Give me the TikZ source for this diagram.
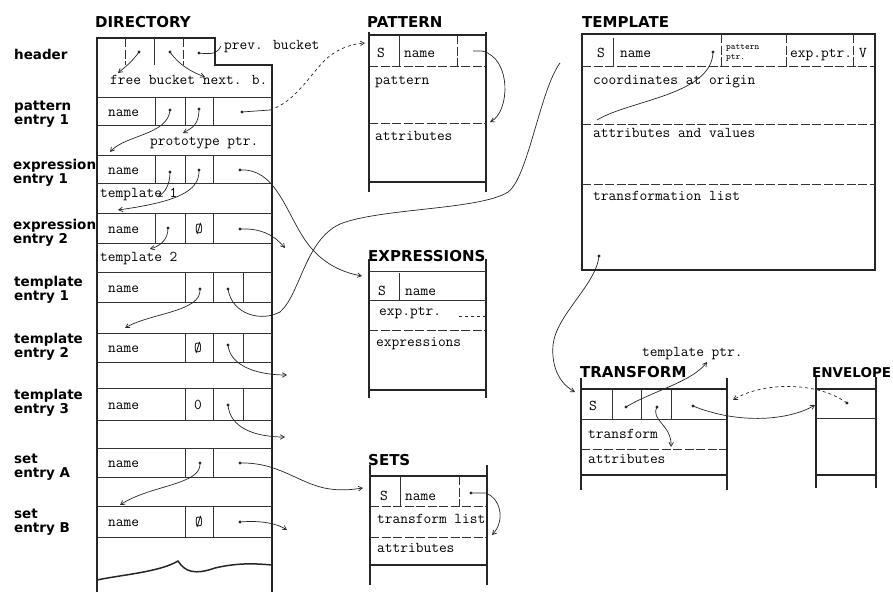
\documentclass[tikz,border=0pt]{standalone}
\usepackage{fontspec}
\newfontfamily\hdfont{DejaVu Sans}
\usetikzlibrary{arrows.meta}

\begin{document}
\begin{tikzpicture}[x=1pt,y=-1pt,
  wall/.style={draw=black!85,line width=1.5pt},
  rline/.style={draw=black!80,line width=0.8pt},
  cut/.style={draw=black!80,line width=0.8pt,dash pattern=on 9pt off 2.5pt},
  wire/.style={draw=black!85,line width=0.7pt},
  arr/.style={wire,-{Straight Barb[length=4pt,width=4.5pt]}},
  ttl/.style={anchor=base west,inner sep=0pt,font=\hdfont\bfseries\fontsize{15}{15}\selectfont},
  lbl/.style={anchor=base west,inner sep=0pt,align=left,font=\hdfont\bfseries\fontsize{13.5}{14}\selectfont},
  txt/.style={anchor=base west,inner sep=0pt,font=\ttfamily\fontsize{15}{15}\selectfont},
  wee/.style={txt,font=\ttfamily\fontsize{9}{7}\selectfont}]
\useasboundingbox (0,0) rectangle (893,592);

% titles and row labels
\node[ttl] (dir) at (95,27) {DIRECTORY};
\node[ttl] (pat) at (367,27) {PATTERN};
\node[ttl] (exs) at (368,261) {EXPRESSIONS};
\node[ttl] (sets) at (368,465) {SETS};
\node[ttl] (tpl) at (582,27) {TEMPLATE};
\node[ttl] (trf) at (580,377) {TRANSFORM};
\node[ttl,font=\hdfont\bfseries\fontsize{13.5}{14}\selectfont] (env) at (812,377) {ENVELOPE};
\node[lbl] (hdr) at (14,59) {header};
\node[lbl] (pe) at (14,124) {pattern\\entry 1};
\node[lbl] (xe1) at (13,183) {expression\\entry 1};
\node[lbl] (xe2) at (13,243) {expression\\entry 2};
\node[lbl] (te1) at (14,300) {template\\entry 1};
\node[lbl] (te2) at (14,357) {template\\entry 2};
\node[lbl] (te3) at (14,413) {template\\entry 3};
\node[lbl] (sea) at (14,477) {set\\entry A};
\node[lbl] (seb) at (14,532) {set\\entry B};

% directory
\draw[wall] (97,592) -- (97,38) -- (215,38) -- (215,65) -- (272,65) -- (272,592);
\draw[cut] (125,38) -- (125,65); \draw[rline] (154,38) -- (154,65); \draw[cut] (183,38) -- (183,65);
\foreach \y in {97,125,155,183,213,243,272,302,333,362,388,420,448,477,506,537}
  \draw[rline] (97,\y) -- (272,\y);
\foreach \t/\b/\xs in {97/125/{155,185,213},155/183/{155,185,213},213/243/{155,185,213},
    272/302/{185,213,243},333/362/{185,213,243},388/420/{185,213,243},448/477/{185,213},506/537/{185,213}}
  \foreach \x in \xs \draw[rline] (\x,\t) -- (\x,\b);
\draw[wall] (97,580) .. controls (120,575) and (160,572) .. (178,561)
  .. controls (185,572) and (195,575) .. (215,568) .. controls (240,562) and (260,564) .. (272,565);
\node[txt] (frb) at (110,84) {free bucket next. b.};
\node[txt] (prv) at (224,49) {prev. bucket};
\node[txt] (pro) at (150,145) {prototype ptr.};
\node[txt] (tp1) at (100,197) {template 1};
\node[txt] (tp2) at (100,261) {template 2};
\foreach \y [count=\i] in {116,174,233,292,352,409,467,526}
  \node[txt] (nm\i) at (108,\y) {name};
\node[txt,anchor=base] (z1) at (199,233) {Ø};
\node[txt,anchor=base] (z2) at (198,352) {Ø};
\node[txt,anchor=base] (z3) at (198,409) {0};
\node[txt,anchor=base] (z4) at (199,526) {Ø};

% pattern
\draw[wall] (369,32) -- (369,192); \draw[wall] (486,32) -- (486,192);
\draw[wall] (369,35) -- (486,35); \draw[wall] (369,182) -- (486,182);
\draw[rline] (399,35) -- (399,66); \draw[cut] (457,35) -- (457,66);
\draw[cut] (369,66) -- (486,66); \draw[cut] (369,123) -- (486,123);
\node[txt] (ps) at (377,57) {S};
\node[txt] (pn) at (404,57) {name};
\node[txt] (pt) at (375,84) {pattern};
\node[txt] (pa) at (375,140) {attributes};

% expressions
\draw[wall] (369,259) -- (369,398); \draw[wall] (486,259) -- (486,398);
\draw[rline] (369,271) -- (486,271); \draw[wall] (369,390) -- (486,390);
\draw[rline] (399,273) -- (399,300); \draw[rline] (369,300) -- (486,300);
\draw[cut] (369,330) -- (486,330);
\node[txt] (xs) at (378,295) {S};
\node[txt] (xn) at (405,295) {name};
\node[txt] (xp) at (379,315) {exp.ptr.};
\node[txt] (xx) at (376,346) {expressions};

% sets
\draw[wall] (370,465) -- (370,585); \draw[wall] (487,465) -- (487,585);
\draw[wall] (370,476) -- (487,476); \draw[wall] (370,565) -- (487,565);
\draw[rline] (400,476) -- (400,506); \draw[cut] (459,476) -- (459,506);
\draw[cut] (370,506) -- (487,506); \draw[cut] (370,537) -- (487,537);
\node[txt] (ss) at (380,500) {S};
\node[txt] (sn) at (405,500) {name};
\node[txt] (st) at (377,523) {transform list};
\node[txt] (sat) at (377,552) {attributes};

% template
\draw[wall] (582,34) rectangle (875,270);
\draw[rline] (613,38) -- (613,66); \draw[cut] (721,34) -- (721,66);
\draw[cut] (786,34) -- (786,66); \draw[cut] (853,34) -- (853,66);
\draw[cut] (582,66) -- (875,66); \draw[cut] (582,124) -- (875,124); \draw[cut] (582,184) -- (875,184);
\node[txt] (ts) at (597,57) {S};
\node[txt] (tn) at (620,57) {name};
\node[wee] (tpa) at (726,49) {pattern};
\node[wee] (tpb) at (726,59) {ptr.};
\node[txt] (tex) at (790,57) {exp.ptr.};
\node[txt] (tv) at (859,57) {V};
\node[txt] (tco) at (593,84) {coordinates at origin};
\node[txt] (tat) at (593,137) {attributes and values};
\node[txt] (ttr) at (593,200) {transformation list};

% transform and envelope
\draw[wall] (581,378) -- (581,490); \draw[wall] (727,378) -- (727,490);
\draw[wall] (581,389) -- (727,389); \draw[wall] (581,475) -- (727,475);
\foreach \x in {612,641,671} \draw[rline] (\x,389) -- (\x,419);
\draw[rline] (581,419) -- (727,419); \draw[cut] (581,449) -- (727,449);
\node[txt] (rs) at (589,410) {S};
\node[txt] (rt) at (588,438) {transform};
\node[txt] (ra) at (588,463) {attributes};
\node[txt] (rtp) at (642,356) {template ptr.};
\draw[wall] (816,377) -- (816,488); \draw[wall] (876,377) -- (876,488);
\draw[wall] (816,389) -- (876,389); \draw[rline] (816,418) -- (876,418); \draw[wall] (816,475) -- (876,475);

% pointers
\coordinate (hd1) at (139,52); \coordinate (hd2) at (170,52); \coordinate (hd3) at (199,53);
\coordinate (pe1) at (170,110); \coordinate (pe2) at (199,109); \coordinate (pe3) at (242,112);
\coordinate (ee1) at (170,172); \coordinate (ee2) at (199,170); \coordinate (ee3) at (240,170);
\coordinate (ex1) at (168,228); \coordinate (ex2) at (240,229);
\coordinate (ta1) at (200,289); \coordinate (ta2) at (228,289);
\coordinate (tb2) at (228,345); \coordinate (tc2) at (228,405);
\coordinate (sa1) at (200,463); \coordinate (sa2) at (240,463); \coordinate (sb2) at (240,522);
\coordinate (spt) at (471,493); \coordinate (tpp) at (713,52); \coordinate (tbt) at (599,256);
\coordinate (rp1) at (626,407); \coordinate (rp2) at (657,407); \coordinate (rp3) at (693,406);
\coordinate (evp) at (847,403);
\foreach \c in {hd1,hd2,hd3,pe1,pe2,pe3,ee1,ee2,ee3,ex1,ex2,ta1,ta2,tb2,tc2,sa1,sa2,sb2,spt,tpp,tbt,rp1,rp2,rp3,evp}
  \fill[black!85] (\c) circle (1.6pt);
\coordinate (hd1e) at (118,73); \coordinate (hd2e) at (205,77); \coordinate (hd3e) at (221,46);
\coordinate (pe1e) at (110,152); \coordinate (pe2e) at (183,133); \coordinate (pe3m) at (270,110);
\coordinate (patin) at (365,43); \coordinate (ee1e) at (158,197); \coordinate (ee2e) at (118,210);
\coordinate (expin) at (362,276); \coordinate (ex1e) at (150,249); \coordinate (ex2e) at (285,248);
\coordinate (ta1e) at (125,328); \coordinate (tplin) at (560,63);
\coordinate (tb2e) at (287,375); \coordinate (tc2e) at (285,437);
\coordinate (sa1e) at (120,505); \coordinate (setin) at (363,488); \coordinate (sb2e) at (287,530);
\coordinate (ppt) at (473,51); \coordinate (patat) at (490,122);
\coordinate (setat) at (492,535); \coordinate (xpt) at (486,316); \coordinate (xpte) at (458,316);
\coordinate (tco) at (597,120); \coordinate (trfin) at (575,392);
\coordinate (rp1e) at (707,362); \coordinate (rp2e) at (671,447);
\coordinate (envin) at (815,405); \coordinate (trfat) at (733,400);

\draw[arr] (hd1) .. controls (132,62) and (124,68) .. (hd1e);
\draw[arr] (hd2) .. controls (180,66) and (192,72) .. (hd2e);
\draw[wire] (hd3) .. controls (215,55) and (218,52) .. (hd3e);
\draw[arr] (pe1) .. controls (168,135) and (125,135) .. (pe1e);
\draw[arr] (pe2) .. controls (199,125) and (192,128) .. (pe2e);
\draw[wire] (pe3) -- (pe3m);
\draw[arr,dashed] (pe3m) .. controls (295,102) and (310,75) .. (325,60) .. controls (338,48) and (352,44) .. (patin);
\draw[arr] (ee1) .. controls (170,185) and (165,192) .. (ee1e);
\draw[arr] (ee2) .. controls (200,192) and (175,202) .. (ee2e);
\draw[arr] (ee3) .. controls (275,168) and (285,210) .. (305,240) .. controls (320,262) and (340,272) .. (expin);
\draw[arr] (ex1) .. controls (168,240) and (160,246) .. (ex1e);
\draw[arr] (ex2) .. controls (262,228) and (275,236) .. (ex2e);
\draw[arr] (ta1) .. controls (202,312) and (150,313) .. (ta1e);
\draw[wire] (ta2) .. controls (232,315) and (262,322) .. (280,312) .. controls (300,295) and (305,240) .. (340,224)
  .. controls (380,208) and (480,210) .. (508,192) .. controls (528,178) and (540,90) .. (tplin);
\draw[arr] (tb2) .. controls (230,365) and (255,375) .. (tb2e);
\draw[arr] (tc2) .. controls (230,428) and (255,437) .. (tc2e);
\draw[arr] (sa1) .. controls (202,485) and (150,485) .. (sa1e);
\draw[arr] (sa2) .. controls (280,462) and (300,485) .. (330,489) .. controls (345,491) and (355,489) .. (setin);
\draw[arr] (sb2) .. controls (262,520) and (278,524) .. (sb2e);
\draw[arr] (ppt) -- (482,51) .. controls (512,58) and (510,112) .. (patat);
\draw[arr] (spt) -- (486,493) .. controls (500,498) and (506,520) .. (setat);
\draw[wire,dashed] (xpt) -- (xpte);
\draw[wire] (tpp) .. controls (712,95) and (630,100) .. (tco);
\draw[arr] (tbt) .. controls (596,285) and (556,315) .. (553,345) .. controls (551,370) and (562,385) .. (trfin);
\draw[arr] (rp1) .. controls (650,392) and (692,382) .. (rp1e);
\draw[arr] (rp2) .. controls (650,420) and (672,425) .. (rp2e);
\draw[arr] (rp3) .. controls (740,425) and (790,420) .. (envin);
\draw[arr,dashed] (evp) .. controls (815,380) and (760,383) .. (trfat);
\end{tikzpicture}
\end{document}
